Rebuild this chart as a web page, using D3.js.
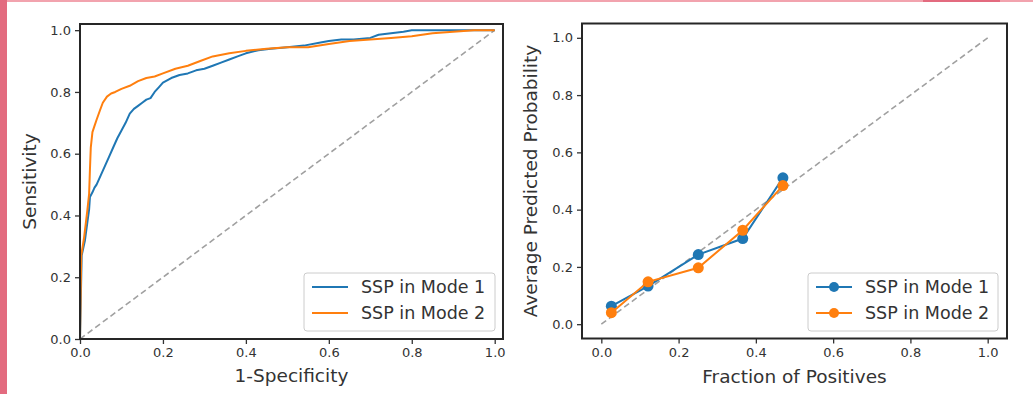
<!DOCTYPE html>
<html>
<head>
<meta charset="utf-8">
<script src="https://cdn.jsdelivr.net/npm/d3@7"></script>
<style>
  html, body { margin: 0; padding: 0; background: #fff; }
  svg { display: block; }
  text { font-family: "DejaVu Sans", sans-serif; fill: #333; }
</style>
</head>
<body>
<script>
// ---------------- DATA ----------------
const seriesNames = ["SSP in Mode 1", "SSP in Mode 2"];
const seriesColors = ["#1f77b4", "#ff7f0e"];

// ROC curve, Mode 1
const rocFpr1 = [0, 0.004, 0.012, 0.018, 0.022, 0.024, 0.03, 0.035, 0.04, 0.05, 0.06, 0.07, 0.08, 0.09, 0.10, 0.11, 0.12, 0.13, 0.14, 0.15, 0.16, 0.17, 0.18, 0.19, 0.20, 0.22, 0.24, 0.26, 0.28, 0.30, 0.32, 0.34, 0.36, 0.38, 0.40, 0.43, 0.46, 0.50, 0.54, 0.58, 0.60, 0.63, 0.66, 0.70, 0.72, 0.75, 0.78, 0.80, 0.85, 0.90, 1.0];
const rocTpr1 = [0, 0.27, 0.32, 0.38, 0.42, 0.46, 0.475, 0.49, 0.50, 0.53, 0.56, 0.59, 0.62, 0.65, 0.675, 0.70, 0.73, 0.745, 0.755, 0.765, 0.775, 0.78, 0.80, 0.815, 0.83, 0.845, 0.855, 0.86, 0.87, 0.875, 0.885, 0.895, 0.905, 0.915, 0.925, 0.935, 0.94, 0.945, 0.95, 0.96, 0.965, 0.97, 0.97, 0.975, 0.985, 0.99, 0.995, 1.0, 1.0, 1.0, 1.0];

// ROC curve, Mode 2
const rocFpr2 = [0, 0.003, 0.01, 0.018, 0.022, 0.024, 0.026, 0.03, 0.035, 0.04, 0.048, 0.055, 0.065, 0.075, 0.085, 0.10, 0.12, 0.14, 0.16, 0.18, 0.20, 0.23, 0.26, 0.29, 0.32, 0.36, 0.40, 0.45, 0.50, 0.55, 0.60, 0.65, 0.70, 0.75, 0.80, 0.85, 0.90, 0.95, 1.0];
const rocTpr2 = [0, 0.27, 0.33, 0.42, 0.47, 0.55, 0.62, 0.67, 0.69, 0.71, 0.74, 0.765, 0.785, 0.795, 0.80, 0.81, 0.82, 0.835, 0.845, 0.85, 0.86, 0.875, 0.885, 0.90, 0.915, 0.925, 0.933, 0.94, 0.945, 0.945, 0.955, 0.965, 0.97, 0.975, 0.98, 0.99, 0.995, 1.0, 1.0];

// Calibration curve
const calX1 = [0.026, 0.121, 0.251, 0.366, 0.47];
const calY1 = [0.063, 0.133, 0.243, 0.299, 0.511];
const calX2 = [0.026, 0.121, 0.251, 0.366, 0.47];
const calY2 = [0.040, 0.148, 0.197, 0.328, 0.484];

const tickValues = [0, 0.2, 0.4, 0.6, 0.8, 1.0];
const rocXLabel = "1-Specificity";
const rocYLabel = "Sensitivity";
const calXLabel = "Fraction of Positives";
const calYLabel = "Average Predicted Probability";

// ---------------- DRAW ----------------
const W = 1033, H = 394;
const svg = d3.select("body").append("svg").attr("width", W).attr("height", H);
svg.append("rect").attr("width", W).attr("height", H).attr("fill", "#fff");

// decorative page border
svg.append("rect").attr("x", 0).attr("y", 0).attr("width", W).attr("height", 2).attr("fill", "#f2a3ae");
svg.append("rect").attr("x", 923).attr("y", 0).attr("width", 77).attr("height", 2).attr("fill", "#e36b7f");
svg.append("rect").attr("x", 0).attr("y", 0).attr("width", 7).attr("height", H).attr("fill", "#e36b7f");

const fmt = d3.format(".1f");

function panel(box, xDomain, yDomain) {
  const x = d3.scaleLinear().domain(xDomain).range([box.l, box.r]);
  const y = d3.scaleLinear().domain(yDomain).range([box.b, box.t]);
  const g = svg.append("g");
  const clipId = "clip" + Math.round(box.l);
  svg.append("clipPath").attr("id", clipId).append("rect")
    .attr("x", box.l).attr("y", box.t).attr("width", box.r - box.l).attr("height", box.b - box.t);
  const xAxis = g.append("g").attr("transform", `translate(0,${box.b})`)
    .call(d3.axisBottom(x).tickValues(tickValues).tickFormat(fmt).tickSize(5).tickPadding(4));
  const yAxis = g.append("g").attr("transform", `translate(${box.l},0)`)
    .call(d3.axisLeft(y).tickValues(tickValues).tickFormat(fmt).tickSize(5).tickPadding(4));
  [xAxis, yAxis].forEach(a => {
    a.select(".domain").remove();
    a.selectAll(".tick line").attr("stroke", "#333").attr("stroke-width", 1.3);
    a.selectAll(".tick text").style("font-family", "DejaVu Sans").style("font-size", "13px").attr("fill", "#555");
  });
  const plot = g.append("g").attr("clip-path", `url(#${clipId})`);
  return {x, y, g, plot};
}

function frame(p, box) {
  p.g.append("rect").attr("x", box.l).attr("y", box.t).attr("width", box.r - box.l).attr("height", box.b - box.t)
    .attr("fill", "none").attr("stroke", "#262626").attr("stroke-width", 2);
}

function legend(box, withMarker) {
  const lg = svg.append("g");
  lg.append("rect").attr("x", box.x).attr("y", box.y).attr("width", box.w).attr("height", box.h)
    .attr("rx", 3).attr("fill", "#fff").attr("fill-opacity", 0.85).attr("stroke", "#cccccc").attr("stroke-width", 1);
  seriesNames.forEach((name, i) => {
    const yy = box.y + 14 + i * 26;
    lg.append("line").attr("x1", box.x + 8).attr("x2", box.x + 44).attr("y1", yy).attr("y2", yy)
      .attr("stroke", seriesColors[i]).attr("stroke-width", 2);
    if (withMarker) lg.append("circle").attr("cx", box.x + 26).attr("cy", yy).attr("r", 5).attr("fill", seriesColors[i]);
    lg.append("text").attr("x", box.x + 57).attr("y", yy).attr("dy", "0.36em")
      .style("font-size", "17.5px").attr("fill", "#333").text(name);
  });
}

// ---- Left panel: ROC ----
const boxL = {l: 80, r: 503, t: 24, b: 339};
const pL = panel(boxL, [0, 1.02], [0, 1.02]);
pL.plot.append("line").attr("x1", pL.x(0)).attr("y1", pL.y(0)).attr("x2", pL.x(1)).attr("y2", pL.y(1))
  .attr("stroke", "#a0a0a0").attr("stroke-width", 1.6).attr("stroke-dasharray", "6,3.5");
const lineL = d3.line().x(d => pL.x(d[0])).y(d => pL.y(d[1]));
[[rocFpr1, rocTpr1], [rocFpr2, rocTpr2]].forEach((s, i) => {
  pL.plot.append("path").datum(d3.zip(s[0], s[1])).attr("d", lineL)
    .attr("fill", "none").attr("stroke", seriesColors[i]).attr("stroke-width", 2).attr("stroke-linejoin", "round");
});
frame(pL, boxL);
legend({x: 304, y: 273, w: 191, h: 58}, false);
svg.append("text").attr("x", (boxL.l + boxL.r) / 2).attr("y", 382).attr("text-anchor", "middle")
  .style("font-size", "18.5px").text(rocXLabel);
svg.append("text").attr("transform", `translate(36,${(boxL.t + boxL.b) / 2}) rotate(-90)`).attr("text-anchor", "middle")
  .style("font-size", "18.5px").text(rocYLabel);

// ---- Right panel: calibration ----
const boxR = {l: 582, r: 1007, t: 23.5, b: 338.5};
const pR = panel(boxR, [-0.05, 1.05], [-0.05, 1.05]);
pR.plot.append("line").attr("x1", pR.x(0)).attr("y1", pR.y(0)).attr("x2", pR.x(1)).attr("y2", pR.y(1))
  .attr("stroke", "#a0a0a0").attr("stroke-width", 1.6).attr("stroke-dasharray", "6,3.5");
const lineR = d3.line().x(d => pR.x(d[0])).y(d => pR.y(d[1]));
[[calX1, calY1], [calX2, calY2]].forEach((s, i) => {
  const pts = d3.zip(s[0], s[1]);
  pR.plot.append("path").datum(pts).attr("d", lineR)
    .attr("fill", "none").attr("stroke", seriesColors[i]).attr("stroke-width", 2);
  pR.plot.selectAll(null).data(pts).enter().append("circle")
    .attr("cx", d => pR.x(d[0])).attr("cy", d => pR.y(d[1])).attr("r", 5.5).attr("fill", seriesColors[i]);
});
frame(pR, boxR);
legend({x: 808, y: 273, w: 190, h: 58}, true);
svg.append("text").attr("x", (boxR.l + boxR.r) / 2).attr("y", 383).attr("text-anchor", "middle")
  .style("font-size", "18.5px").text(calXLabel);
svg.append("text").attr("transform", `translate(537,${(boxR.t + boxR.b) / 2}) rotate(-90)`).attr("text-anchor", "middle")
  .style("font-size", "18.5px").text(calYLabel);
</script>
</body>
</html>
